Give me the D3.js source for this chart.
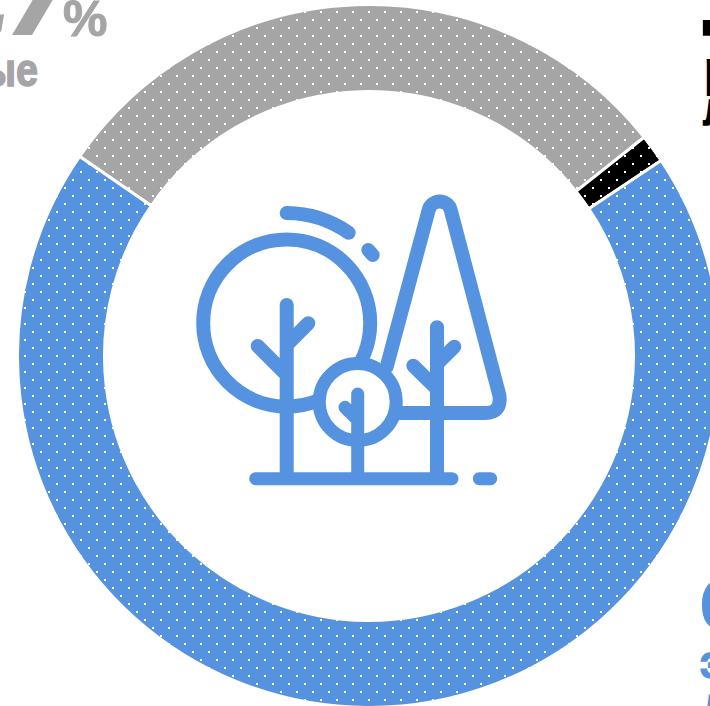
<!DOCTYPE html>
<html lang="ru">
<head>
<meta charset="utf-8">
<script src="https://cdn.jsdelivr.net/npm/d3@7"></script>
<style>
html,body{margin:0;padding:0;background:#fff;overflow:hidden}
svg{display:block}
text{font-family:"Liberation Sans Narrow","Liberation Sans",sans-serif;font-weight:700}
</style>
</head>
<body>
<svg id="c" width="710" height="706"></svg>
<script>
const categories = ["защитные", "резервные", "эксплуатационные"];
const shares = [29.7, 1.3, 69.0];
const shareLabels = ["29,7", "1,3", "69"];
const colors = ["#a5a5a5", "#000000", "#5592e0"];

const svg = d3.select("#c");
const defs = svg.append("defs");
colors.forEach((col, i) => {
  const p = defs.append("pattern").attr("id", "dots" + i).attr("patternUnits", "userSpaceOnUse")
    .attr("width", 16).attr("height", 16).attr("patternTransform", "translate(-369,-356)");
  p.append("rect").attr("width", 16).attr("height", 16).attr("fill", col);
  p.append("rect").attr("x", 0).attr("y", 11).attr("width", 2).attr("height", 2).attr("fill", "#fff");
  p.append("rect").attr("x", 8).attr("y", 3).attr("width", 2).attr("height", 2).attr("fill", "#fff");
});

const start = -55.4 * Math.PI / 180;
const pie = d3.pie().sort(null).startAngle(start).endAngle(start + 2 * Math.PI);
const arc = d3.arc().innerRadius(264.5).outerRadius(351.5);
const ring = svg.append("g").attr("transform", "translate(369,356)");
ring.selectAll("path").data(pie(shares)).join("path")
  .attr("d", arc)
  .attr("fill", (d, i) => `url(#dots${i})`)
  .attr("stroke", "#fff").attr("stroke-width", 3);

// centre icon
const blue = colors[2];
const icon = svg.append("g").attr("fill", "none").attr("stroke", blue)
  .attr("stroke-width", 14).attr("stroke-linecap", "round").attr("stroke-linejoin", "round");
icon.append("circle").attr("cx", 286.7).attr("cy", 323).attr("r", 83.5);
icon.append("path").attr("d", "M286.7 213A110 110 0 0 1 348.7 232.7");
icon.append("path").attr("d", "M368.3 250L372.7 255");
icon.append("path").attr("d", "M386.7 366.7L428.7 210A11.4 11.4 0 0 1 450.7 210L499.3 395Q502 413 485 413L396.7 413");
icon.append("path").attr("d", "M286.7 305V478M308.3 323.3L286.7 345M257.7 346L286.7 375");
icon.append("path").attr("d", "M437 327.3V478M454.3 346.7L437 364M413.3 365.7L437 389");
icon.append("circle").attr("cx", 357.7).attr("cy", 402).attr("r", 38.5)
  .attr("fill", "#fff").attr("stroke-width", 13);
icon.append("path").attr("stroke-width", 13).attr("d", "M357.7 394V478M345 407.3L357.7 420");
icon.append("path").attr("stroke-width", 13).attr("d", "M255.7 478.7H452M479.3 478.7H490.7");

// labels, running off the frame as in the reference
const t = svg.append("g");
const digits = (x, y, i, anchor, size, sw) => t.append("text").attr("x", x).attr("y", y)
  .attr("fill", colors[i]).attr("stroke", colors[i]).attr("stroke-width", sw)
  .attr("text-anchor", anchor).attr("font-size", size).attr("font-style", "italic")
  .style("font-family", '"DejaVu Sans Condensed","DejaVu Sans",sans-serif').text(shareLabels[i]);
const word = (x, y, i, s, anchor, sw) => t.append("text")
  .attr("transform", `translate(${x},${y}) scale(0.86,1)`)
  .attr("fill", colors[i]).attr("stroke", colors[i]).attr("stroke-width", sw)
  .attr("text-anchor", anchor).attr("font-size", 46).text(s);

digits(63, 33, 0, "end", 84, 5);
t.append("text").attr("x", 63).attr("y", 36).attr("fill", colors[0]).attr("stroke", colors[0])
  .attr("stroke-width", 1).attr("font-size", 50).text("%");
word(38, 86, 0, categories[0], "end", 1.5);
digits(692, 35, 1, "start", 110, 1.5).style("font-style", "normal");
word(705, 85, 1, categories[1], "start", 2.2);
word(703, 125, 1, "леса", "start", 1.5);
digits(699, 628, 2, "start", 66, 1.5).style("font-style", "normal");
word(700, 678, 2, categories[2], "start", 1.5);
word(703, 720, 2, "леса", "start", 1.5);
</script>
</body>
</html>
